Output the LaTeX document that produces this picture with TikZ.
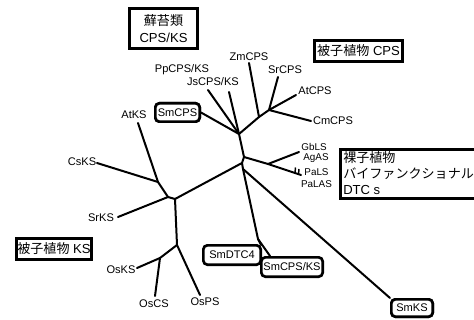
\documentclass[tikz,border=0pt]{standalone}
\usepackage{fontspec}
\setmainfont{Liberation Sans}
\newfontfamily\jp{Noto Sans CJK JP}
\begin{document}
\begin{tikzpicture}[x=0.75pt,y=-0.75pt,
  br/.style={line width=1.5pt,line join=round,line cap=round},
  tick/.style={line width=1.1pt},
  lab/.style={inner sep=0pt,font=\fontsize{8.3}{10}\selectfont},
  glab/.style={inner sep=0pt,font=\fontsize{7.4}{9}\selectfont},
  gtxt/.style={anchor=west,inner sep=0pt,font=\fontsize{9.8}{12}\selectfont},
  sqbox/.style={draw,line width=2.2pt,fill=white,inner sep=0pt,align=center,font=\fontsize{9.8}{12.5}\selectfont},
  rbox/.style={draw,line width=2pt,rounded corners=3pt,fill=white,inner sep=0pt,font=\fontsize{8.3}{10}\selectfont}]
\useasboundingbox (0,0) rectangle (474,320);
% internal points
\coordinate (P) at (239,134);
\coordinate (Q) at (259,117);
\coordinate (R) at (269,110);
\coordinate (J1) at (244,157);
\coordinate (J2) at (242,163);
\coordinate (J3) at (243,169);
\coordinate (G) at (268,164);
\coordinate (F) at (258,239);
\coordinate (L1) at (175,199);
\coordinate (L2) at (158,182);
\coordinate (L3) at (168,197);
\coordinate (L4) at (177,245);
\coordinate (L5) at (160,258);
% leaf ends
\coordinate (ePp) at (208,90);
\coordinate (eJs) at (229,92);
\coordinate (eZm) at (249,63);
\coordinate (eSr) at (278,77);
\coordinate (eAt) at (296,95);
\coordinate (eCm) at (311,121);
\coordinate (eGb) at (299,152);
\coordinate (ePa) at (301,175);
\coordinate (eAtKS) at (138,123);
\coordinate (eCsKS) at (97,163);
\coordinate (eSrKS) at (118,217);
\coordinate (eOsKS) at (137,268);
\coordinate (eOsCS) at (155,296);
\coordinate (eOsPS) at (200,295);
\coordinate (eDTC) at (261,245);
\coordinate (eCPSKS) at (270,256);
\coordinate (t1a) at (295,173);
\coordinate (t1b) at (295.5,167.5);
\coordinate (t2a) at (298.5,174.5);
\coordinate (t2b) at (299,169);
\node[rbox,minimum width=33.25pt,minimum height=13.75pt] (smcps) at (177.5,112.5) {SmCPS};
% branches
\draw[br] (ePp) -- (P);
\draw[br] (eJs) -- (P);
\draw[br] (smcps.east) -- (P);
\draw[br] (P) -- (Q) -- (R);
\draw[br] (Q) -- (eZm);
\draw[br] (R) -- (eSr);
\draw[br] (R) -- (eAt);
\draw[br] (R) -- (eCm);
\draw[br] (P) -- (J1) -- (J2) -- (J3);
\draw[br] (J1) -- (G);
\draw[br] (G) -- (eGb);
\draw[br] (G) -- (ePa);
\draw[tick] (t1a) -- (t1b);
\draw[tick] (t2a) -- (t2b);
\draw[br] (J2) -- (L1);
\draw[br] (L1) -- (L3) -- (L2);
\draw[br] (L3) -- (eSrKS);
\draw[br] (L2) -- (eAtKS);
\draw[br] (L2) -- (eCsKS);
\draw[br] (L1) -- (L4) -- (L5);
\draw[br] (L5) -- (eOsKS);
\draw[br] (L5) -- (eOsCS);
\draw[br] (L4) -- (eOsPS);
\draw[br] (J3) -- (F);
\draw[br] (F) -- (eDTC);
\draw[br] (F) -- (eCPSKS);
\node[rbox,minimum width=33.25pt,minimum height=13.75pt] at (smcps.center) {SmCPS};
\node[rbox,minimum width=43pt,minimum height=14.5pt] (smdtc) at (232,255) {SmDTC4};
\node[rbox,minimum width=46pt,minimum height=14.5pt] (smcpsks) at (292,267) {SmCPS/KS};
\node[rbox,minimum width=31pt,minimum height=13pt] (smks) at (412,308) {SmKS};
\draw[br] (J3) -- (smks.north west);
\node[rbox,minimum width=31pt,minimum height=13pt] at (smks.center) {SmKS};
% labels
\node[lab] (pp) at (182,70) {PpCPS/KS};
\node[lab] (js) at (213,82) {JsCPS/KS};
\node[lab] (zm) at (249,57) {ZmCPS};
\node[lab] (sr) at (285,70) {SrCPS};
\node[lab] (at) at (315,91) {AtCPS};
\node[lab] (cm) at (333,121) {CmCPS};
\node[lab] (atks) at (134,115) {AtKS};
\node[lab] (csks) at (82,162) {CsKS};
\node[lab] (srks) at (101,218) {SrKS};
\node[lab] (osks) at (121,270) {OsKS};
\node[lab] (oscs) at (154,304) {OsCS};
\node[lab] (osps) at (205,302) {OsPS};
\node[glab] (gb) at (314,147) {GbLS};
\node[glab] (ag) at (316,158) {AgAS};
\node[glab] (pals) at (316.5,172) {PaLS};
\node[glab] (palas) at (316.5,184) {PaLAS};
% group boxes
\node[sqbox,minimum width=51pt,minimum height=30pt] (moss) at (163.5,28.5) {{\jp 蘚苔類}\\CPS/KS};
\node[sqbox,minimum width=66pt,minimum height=15.8pt] (angcps) at (358.5,51) {{\jp 被子植物} CPS};
\node[sqbox,minimum width=56.3pt,minimum height=15.8pt] (angks) at (54,249) {{\jp 被子植物} KS};
\coordinate (gyA) at (340.5,149.5);
\coordinate (gyB) at (480,198.5);
\draw[line width=2.2pt,fill=white] (gyA) rectangle (gyB);
\node[gtxt] (gy1) at (343,158) {\jp 裸子植物};
\node[gtxt] (gy2) at (343,174) {\jp バイファンクショナル};
\node[gtxt] (gy3) at (343,190) {DTC s};
\end{tikzpicture}
\end{document}
